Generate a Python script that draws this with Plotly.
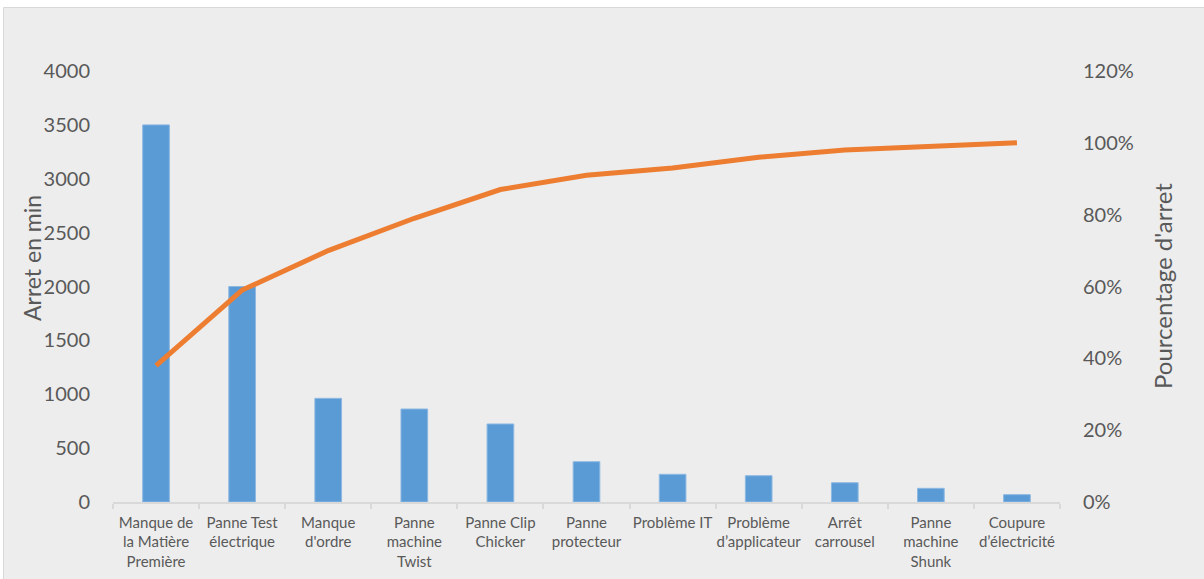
import plotly.graph_objects as go

categories = [
    "Manque de<br>la Matière<br>Première",
    "Panne Test<br>électrique",
    "Manque<br>d'ordre",
    "Panne<br>machine<br>Twist",
    "Panne Clip<br>Chicker",
    "Panne<br>protecteur",
    "Problème IT",
    "Problème<br>d’applicateur",
    "Arrêt<br>carrousel",
    "Panne<br>machine<br>Shunk",
    "Coupure<br>d’électricité",
]
arret_min = [3500, 2000, 962, 863, 724, 374, 257, 244, 179, 127, 68]
pourcentage = [0.38, 0.59, 0.70, 0.79, 0.87, 0.91, 0.93, 0.96, 0.98, 0.99, 1.00]

left_ticks = [0, 500, 1000, 1500, 2000, 2500, 3000, 3500, 4000]
right_ticks = [0, 0.2, 0.4, 0.6, 0.8, 1.0, 1.2]

FONT = "Lato"
TXT = "#595959"

fig = go.Figure()
fig.add_trace(go.Bar(
    x=categories, y=arret_min, width=0.31,
    marker=dict(color="#5B9BD5", line=dict(color="#8DB8E2", width=1)),
    yaxis="y", showlegend=False,
))
fig.add_trace(go.Scatter(
    x=categories, y=pourcentage, mode="lines",
    line=dict(color="#ED7D31", width=5),
    yaxis="y2", showlegend=False,
))

# plot area: x 113..1060, y 71..502
L, R, T, B = 113, 1204 - 1060, 71, 579 - 502
W, H = 1204, 579
pw, ph = W - L - R, H - T - B

def px_x(p):
    return (p - L) / pw

def px_y(p):
    return (H - B - p) / ph

fig.update_layout(
    width=W, height=H,
    margin=dict(l=L, r=R, t=T, b=B, pad=0, autoexpand=False),
    paper_bgcolor="white",
    plot_bgcolor="#EDEDED",
    font=dict(family=FONT, color=TXT),
    shapes=[dict(
        type="rect", xref="paper", yref="paper", layer="below",
        x0=px_x(3.5), x1=px_x(1210), y0=px_y(590), y1=px_y(7.5),
        fillcolor="#EDEDED", line=dict(color="#D9D9D9", width=1),
    )],
    xaxis=dict(
        type="category", tickson="boundaries", ticks="outside",
        ticklen=5, tickcolor="#D9D9D9", tickwidth=1.5,
        showline=True, linecolor="#D9D9D9", linewidth=1.5,
        showgrid=False, tickfont=dict(size=15, color=TXT),
        ticklabelstandoff=6, tickangle=0, automargin=False,
    ),
    yaxis=dict(
        range=[0, 4000], tickvals=left_ticks, showgrid=False, zeroline=False,
        showline=False, tickfont=dict(size=20, color=TXT), ticklabelstandoff=22,
        automargin=False,
    ),
    yaxis2=dict(
        range=[0, 1.2], tickvals=right_ticks, tickformat=".0%", overlaying="y",
        side="right", showgrid=False, zeroline=False, showline=False,
        tickfont=dict(size=20, color=TXT), ticklabelstandoff=22,
        automargin=False,
    ),
    annotations=[
        dict(text="Arret en min", xref="paper", yref="paper",
             x=px_x(32), y=px_y(258), textangle=-90, showarrow=False,
             font=dict(size=23, color=TXT), xanchor="center", yanchor="middle"),
        dict(text="Pourcentage d'arret", xref="paper", yref="paper",
             x=px_x(1162), y=px_y(286), textangle=-90, showarrow=False,
             font=dict(size=24, color=TXT), xanchor="center", yanchor="middle"),
    ],
)

fig.write_html(
    "out.html",
    config={"displayModeBar": False},
    post_script="document.body.style.margin='0';document.body.style.overflow='hidden';",
)
